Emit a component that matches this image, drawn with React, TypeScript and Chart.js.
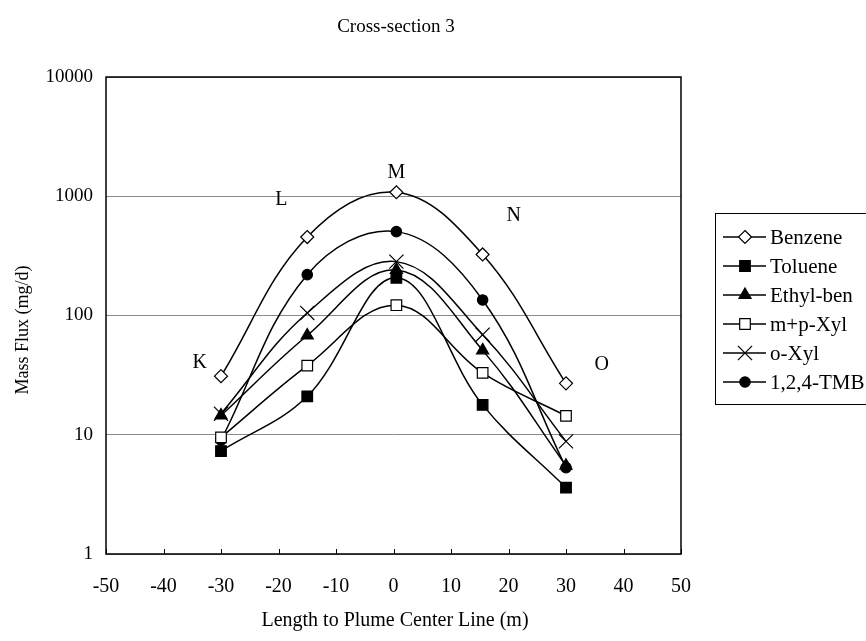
import React, { useEffect, useRef } from 'react';
import { Chart, registerables } from 'chart.js';

Chart.register(...registerables);

const xPositions = [-30, -15, 0.5, 15.5, 30];
const benzene = [31, 455, 1080, 325, 27];
const toluene = [7.3, 21, 207, 17.8, 3.6];
const ethylBen = [14.5, 68, 241, 51, 5.5];
const mpXyl = [9.5, 38, 122, 33, 14.4];
const oXyl = [15, 105, 283, 69, 8.8];
const tmb = [9, 220, 505, 135, 5.3];

const seriesNames = ['Benzene', 'Toluene', 'Ethyl-ben', 'm+p-Xyl', 'o-Xyl', '1,2,4-TMB'];
const seriesValues = [benzene, toluene, ethylBen, mpXyl, oXyl, tmb];
const pointStyles = ['rectRot', 'rect', 'triangle', 'rect', 'crossRot', 'circle'];
const pointFills = ['#ffffff', '#000000', '#000000', '#ffffff', '#000000', '#000000'];
const pointRadii = [6.5, 7.5, 7, 7.5, 10, 5.2];

const yTickValues = [1, 10, 100, 1000, 10000];
const xTickValues = [-50, -40, -30, -20, -10, 0, 10, 20, 30, 40, 50];

const zoneLabels = ['K', 'L', 'M', 'N', 'O'];
const zoneX = [-33.7, -19.5, 0.5, 20.9, 36.2];
const zoneY = [40, 930, 1570, 680, 39];

const FONT = '"Liberation Serif", "DejaVu Serif", serif';

function drawMarker(ctx: CanvasRenderingContext2D, style: string, x: number, y: number, r: number, fill: string) {
  ctx.save();
  ctx.fillStyle = fill;
  ctx.strokeStyle = '#000';
  ctx.lineWidth = 1.2;
  ctx.beginPath();
  if (style === 'rectRot') {
    ctx.moveTo(x, y - r);
    ctx.lineTo(x + r, y);
    ctx.lineTo(x, y + r);
    ctx.lineTo(x - r, y);
    ctx.closePath();
    ctx.fill();
    ctx.stroke();
  } else if (style === 'rect') {
    const s = r * Math.SQRT1_2;
    ctx.rect(x - s, y - s, 2 * s, 2 * s);
    ctx.fill();
    ctx.stroke();
  } else if (style === 'triangle') {
    for (let k = 0; k < 3; k++) {
      const a = (k * 2 * Math.PI) / 3;
      const px = x + Math.sin(a) * r;
      const py = y - Math.cos(a) * r;
      if (k === 0) ctx.moveTo(px, py);
      else ctx.lineTo(px, py);
    }
    ctx.closePath();
    ctx.fill();
    ctx.stroke();
  } else if (style === 'crossRot') {
    const d = r * Math.SQRT1_2;
    ctx.moveTo(x - d, y - d);
    ctx.lineTo(x + d, y + d);
    ctx.moveTo(x + d, y - d);
    ctx.lineTo(x - d, y + d);
    ctx.stroke();
  } else {
    ctx.arc(x, y, r, 0, Math.PI * 2);
    ctx.fill();
    ctx.stroke();
  }
  ctx.restore();
}

const overlayPlugin = {
  id: 'overlay',
  afterDraw(chart: any) {
    const { ctx, chartArea } = chart;
    const xs = chart.scales.x;
    const ys = chart.scales.y;
    ctx.save();
    // inner tick marks on x axis
    ctx.strokeStyle = '#000';
    ctx.lineWidth = 1;
    xTickValues.forEach((v) => {
      const px = Math.round(xs.getPixelForValue(v)) + 0.5;
      ctx.beginPath();
      ctx.moveTo(px, chartArea.bottom);
      ctx.lineTo(px, chartArea.bottom - 5);
      ctx.stroke();
    });
    // plot border
    ctx.lineWidth = 1.5;
    ctx.strokeRect(chartArea.left, chartArea.top, chartArea.right - chartArea.left, chartArea.bottom - chartArea.top);

    ctx.fillStyle = '#000';
    ctx.textAlign = 'center';
    ctx.textBaseline = 'middle';
    // title
    ctx.font = `19px ${FONT}`;
    ctx.fillText('Cross-section 3', 396, 27);
    // x title
    ctx.font = `20px ${FONT}`;
    ctx.fillText('Length to Plume Center Line (m)', 395, 621);
    // y title
    ctx.save();
    ctx.translate(23, 330);
    ctx.rotate(-Math.PI / 2);
    ctx.font = `18px ${FONT}`;
    ctx.fillText('Mass Flux (mg/d)', 0, 0);
    ctx.restore();

    // zone labels
    ctx.font = `20px ${FONT}`;
    zoneLabels.forEach((t, i) => {
      ctx.fillText(t, xs.getPixelForValue(zoneX[i]), ys.getPixelForValue(zoneY[i]));
    });

    // legend
    const lx = 715;
    const ly = 213;
    const rowH = 29;
    const firstRow = 237;
    ctx.lineWidth = 1;
    ctx.strokeStyle = '#000';
    ctx.strokeRect(lx + 0.5, ly + 0.5, 200, firstRow - ly + rowH * (seriesNames.length - 1) + 22);
    ctx.textAlign = 'left';
    ctx.font = `21px ${FONT}`;
    seriesNames.forEach((name, i) => {
      const cy = firstRow + i * rowH;
      ctx.strokeStyle = '#000';
      ctx.lineWidth = 1.5;
      ctx.beginPath();
      ctx.moveTo(723, cy);
      ctx.lineTo(766, cy);
      ctx.stroke();
      drawMarker(ctx, pointStyles[i], 745, cy, pointRadii[i], pointFills[i]);
      ctx.fillStyle = '#000';
      ctx.fillText(name, 770, cy + 1);
    });
    ctx.restore();
  },
};

export default function App() {
  const canvasRef = useRef<HTMLCanvasElement | null>(null);

  useEffect(() => {
    document.body.style.margin = '0';
    const canvas = canvasRef.current;
    if (!canvas) return;
    const datasets = seriesNames.map((name, i) => ({
      label: name,
      data: xPositions.map((x, j) => ({ x, y: seriesValues[i][j] })),
      borderColor: '#000000',
      borderWidth: 1.5,
      backgroundColor: pointFills[i],
      pointStyle: pointStyles[i] as any,
      pointRadius: pointRadii[i],
      pointBorderColor: '#000000',
      pointBackgroundColor: pointFills[i],
      pointBorderWidth: 1.2,
      tension: 0.38,
      fill: false,
    }));

    const chart = new Chart(canvas, {
      type: 'line',
      data: { datasets },
      options: {
        animation: false,
        responsive: false,
        layout: { padding: { top: 77, right: 185, left: 0, bottom: 0 } },
        plugins: {
          legend: { display: false },
          title: { display: false },
          tooltip: { enabled: false },
        },
        scales: {
          x: {
            type: 'linear',
            min: -50,
            max: 50,
            afterBuildTicks: (scale: any) => {
              scale.ticks = xTickValues.map((v) => ({ value: v }));
            },
            afterFit: (scale: any) => {
              scale.height = 87;
            },
            grid: { display: false, drawTicks: false },
            border: { display: false },
            ticks: {
              color: '#000',
              padding: 21,
              maxRotation: 0,
              font: { family: FONT, size: 20 },
              callback: (v: any) => String(v),
            },
          },
          y: {
            type: 'logarithmic',
            min: 1,
            max: 10000,
            afterBuildTicks: (scale: any) => {
              scale.ticks = yTickValues.map((v) => ({ value: v }));
            },
            afterFit: (scale: any) => {
              scale.width = 106;
            },
            grid: { color: '#8a8a8a', lineWidth: 1, drawTicks: false },
            border: { display: false },
            ticks: {
              color: '#000',
              padding: 13,
              font: { family: FONT, size: 19 },
              callback: (v: any) => String(v),
            },
          },
        },
      },
      plugins: [overlayPlugin],
    });
    return () => chart.destroy();
  }, []);

  return (
    <div style={{ width: 866, height: 641, background: '#fff' }}>
      <canvas ref={canvasRef} width={866} height={641} />
    </div>
  );
}
